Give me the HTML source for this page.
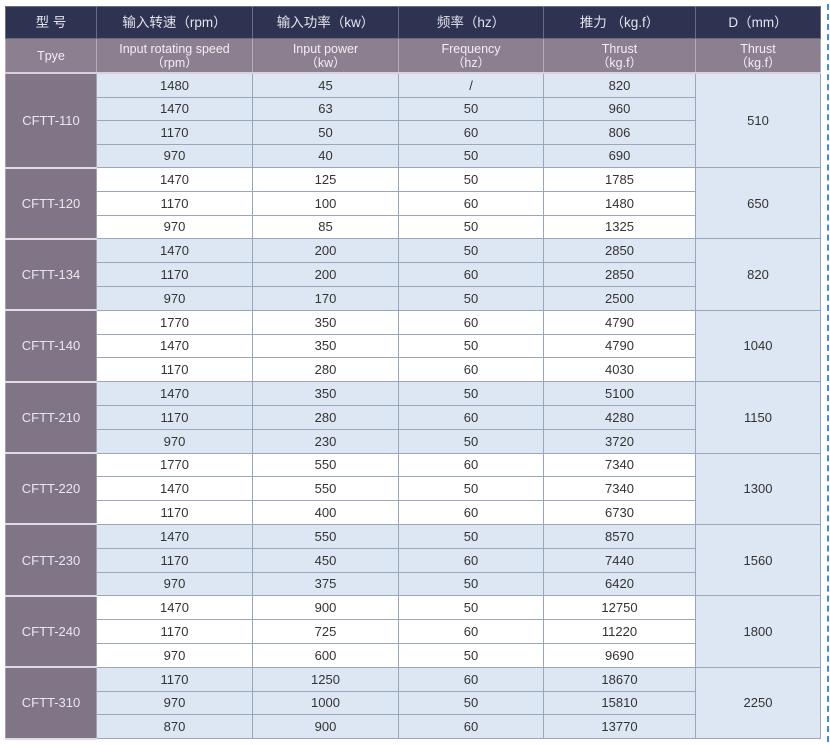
<!DOCTYPE html>
<html><head><meta charset="utf-8"><style>
body{margin:0;width:830px;height:745px;background:#fff;position:relative;overflow:hidden;font-family:"Liberation Sans","Noto Sans CJK SC",sans-serif}
table{position:absolute;left:5px;top:6px;width:815px;border-collapse:collapse;table-layout:fixed}
td{text-align:center;font-size:13px;color:#333;padding:0;border:1px solid #9aa6bb;line-height:1}
tr.h1 td{background:#2f3352;color:#e4e4ee;height:31px;font-size:13.5px;border-color:#6a6c84}
tr.h2 td{background:#8c8090;color:#f2eef4;height:33px;font-size:12.5px;line-height:14px;border-color:#b5acb8;border-bottom:2px solid #d8d0dc}
table tr td.t{background:#807586;color:#ece6ee;border-color:#a89eac;border-bottom:2px solid #e0dce4}
tr.a td{height:22.5px}
tr.b td{height:22.8px}
.bl td{background:#dce7f3}
.wh td{background:#fff}
table tr td.d{background:#dce7f3}
</style></head><body>
<table>
<col style="width:91px"><col style="width:156px"><col style="width:146px"><col style="width:145px"><col style="width:152px"><col style="width:125px">
<tr class="h1"><td>型 号</td><td>输入转速（rpm）</td><td>输入功率（kw）</td><td>频率（hz）</td><td>推力 （kg.f）</td><td>D（mm）</td></tr>
<tr class="h2"><td>Tpye</td><td>Input rotating speed<br>（rpm）</td><td>Input power<br>（kw）</td><td>Frequency<br>（hz）</td><td>Thrust<br>（kg.f）</td><td>Thrust<br>（kg.f）</td></tr>

<tr class="a bl"><td class="t" rowspan="4">CFTT-110</td><td>1480</td><td>45</td><td>/</td><td>820</td><td class="d" rowspan="4">510</td></tr>
<tr class="a bl"><td>1470</td><td>63</td><td>50</td><td>960</td></tr>
<tr class="a bl"><td>1170</td><td>50</td><td>60</td><td>806</td></tr>
<tr class="a bl"><td>970</td><td>40</td><td>50</td><td>690</td></tr>

<tr class="b wh"><td class="t" rowspan="3">CFTT-120</td><td>1470</td><td>125</td><td>50</td><td>1785</td><td class="d" rowspan="3">650</td></tr>
<tr class="b wh"><td>1170</td><td>100</td><td>60</td><td>1480</td></tr>
<tr class="b wh"><td>970</td><td>85</td><td>50</td><td>1325</td></tr>

<tr class="b bl"><td class="t" rowspan="3">CFTT-134</td><td>1470</td><td>200</td><td>50</td><td>2850</td><td class="d" rowspan="3">820</td></tr>
<tr class="b bl"><td>1170</td><td>200</td><td>60</td><td>2850</td></tr>
<tr class="b bl"><td>970</td><td>170</td><td>50</td><td>2500</td></tr>

<tr class="b wh"><td class="t" rowspan="3">CFTT-140</td><td>1770</td><td>350</td><td>60</td><td>4790</td><td class="d" rowspan="3">1040</td></tr>
<tr class="b wh"><td>1470</td><td>350</td><td>50</td><td>4790</td></tr>
<tr class="b wh"><td>1170</td><td>280</td><td>60</td><td>4030</td></tr>

<tr class="b bl"><td class="t" rowspan="3">CFTT-210</td><td>1470</td><td>350</td><td>50</td><td>5100</td><td class="d" rowspan="3">1150</td></tr>
<tr class="b bl"><td>1170</td><td>280</td><td>60</td><td>4280</td></tr>
<tr class="b bl"><td>970</td><td>230</td><td>50</td><td>3720</td></tr>

<tr class="b wh"><td class="t" rowspan="3">CFTT-220</td><td>1770</td><td>550</td><td>60</td><td>7340</td><td class="d" rowspan="3">1300</td></tr>
<tr class="b wh"><td>1470</td><td>550</td><td>50</td><td>7340</td></tr>
<tr class="b wh"><td>1170</td><td>400</td><td>60</td><td>6730</td></tr>

<tr class="b bl"><td class="t" rowspan="3">CFTT-230</td><td>1470</td><td>550</td><td>50</td><td>8570</td><td class="d" rowspan="3">1560</td></tr>
<tr class="b bl"><td>1170</td><td>450</td><td>60</td><td>7440</td></tr>
<tr class="b bl"><td>970</td><td>375</td><td>50</td><td>6420</td></tr>

<tr class="b wh"><td class="t" rowspan="3">CFTT-240</td><td>1470</td><td>900</td><td>50</td><td>12750</td><td class="d" rowspan="3">1800</td></tr>
<tr class="b wh"><td>1170</td><td>725</td><td>60</td><td>11220</td></tr>
<tr class="b wh"><td>970</td><td>600</td><td>50</td><td>9690</td></tr>

<tr class="b bl"><td class="t" rowspan="3">CFTT-310</td><td>1170</td><td>1250</td><td>60</td><td>18670</td><td class="d" rowspan="3">2250</td></tr>
<tr class="b bl"><td>970</td><td>1000</td><td>50</td><td>15810</td></tr>
<tr class="b bl"><td>870</td><td>900</td><td>60</td><td>13770</td></tr>
</table>
<div style="position:absolute;left:827px;top:4px;width:0;height:738px;border-left:2px dashed #3b8fe0"></div>
</body></html>
